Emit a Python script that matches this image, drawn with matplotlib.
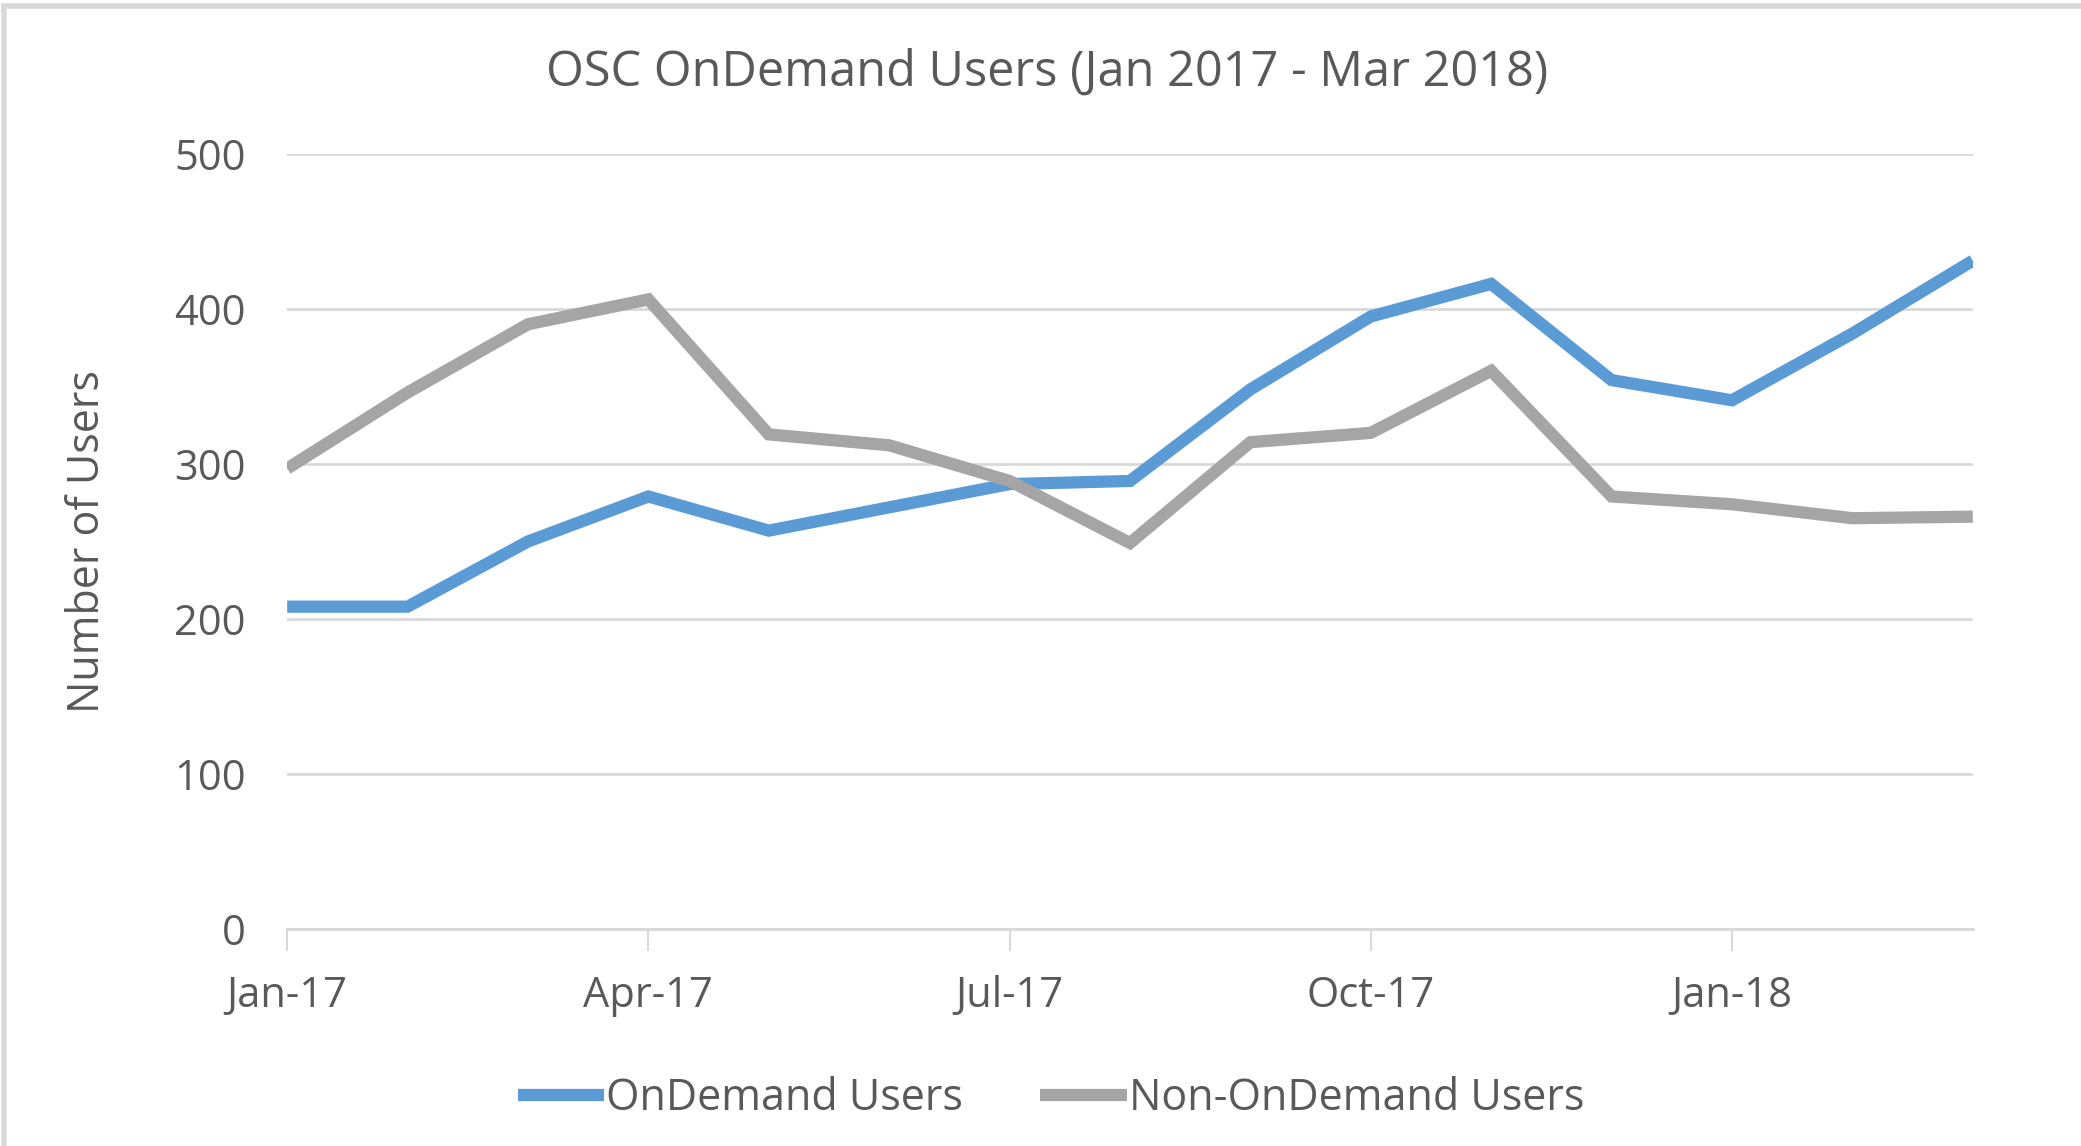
import matplotlib
matplotlib.use("Agg")
import matplotlib.pyplot as plt
from matplotlib.patches import Rectangle

months = ['Jan-17', 'Feb-17', 'Mar-17', 'Apr-17', 'May-17', 'Jun-17', 'Jul-17',
          'Aug-17', 'Sep-17', 'Oct-17', 'Nov-17', 'Dec-17', 'Jan-18', 'Feb-18', 'Mar-18']
ondemand = [208, 208, 250, 279, 257, 272, 287, 289, 348, 395, 416, 354, 341, 384, 431]
non_ondemand = [297, 346, 390, 406, 319, 312, 289, 249, 314, 320, 360, 279, 274, 265, 266]
tick_labels = ['Jan-17', 'Apr-17', 'Jul-17', 'Oct-17', 'Jan-18']
yticks = [0, 100, 200, 300, 400, 500]

TEXT = '#595959'
GRID = '#d9d9d9'
plt.rcParams['font.family'] = ['Open Sans', 'DejaVu Sans']

fig = plt.figure(figsize=(20.81, 11.46), dpi=100)
ax = fig.add_axes([0.138, 0.189, 0.810, 0.677])

x = list(range(len(months)))
ax.plot(x, ondemand, color='#5b9bd5', lw=8.8, solid_joinstyle='miter',
        solid_capstyle='butt', label='OnDemand Users', zorder=3)
ax.plot(x, non_ondemand, color='#a5a5a5', lw=8.8, solid_joinstyle='miter',
        solid_capstyle='butt', label='Non-OnDemand Users', zorder=3)

ax.set_xlim(0, len(months) - 1)
ax.set_ylim(0, 500)
ax.set_yticks(yticks)
ax.set_xticks([months.index(t) for t in tick_labels])
ax.set_xticklabels(tick_labels)
ax.yaxis.grid(True, color=GRID, lw=2)
ax.set_axisbelow(True)
for s in ['top', 'right', 'left']:
    ax.spines[s].set_visible(False)
ax.spines['bottom'].set_color(GRID)
ax.spines['bottom'].set_linewidth(2)
ax.tick_params(axis='y', length=0, labelsize=30, labelcolor=TEXT, pad=30)
ax.tick_params(axis='x', length=16, width=1.5, color=GRID, labelsize=30,
               labelcolor=TEXT, pad=17)

fig.text(0.042, 0.527, 'Number of Users', rotation=90, ha='center', va='center',
         fontsize=31, color=TEXT)
fig.text(0.503, 0.936, 'OSC OnDemand Users (Jan 2017 - Mar 2018)', ha='center',
         va='center', fontsize=35, color=TEXT)

fig.legend(loc='center', bbox_to_anchor=(0.505, 0.041), ncol=2, frameon=False,
           fontsize=31, labelcolor=TEXT, handlelength=2.0, handletextpad=0.05,
           columnspacing=1.8)

# light frame of the screenshot
fig.patches.append(Rectangle((0.002, -0.01), 1.1, 1.005, transform=fig.transFigure,
                             fill=False, edgecolor='#d9d9d9', lw=4))

fig.savefig('out.png', dpi=100)
